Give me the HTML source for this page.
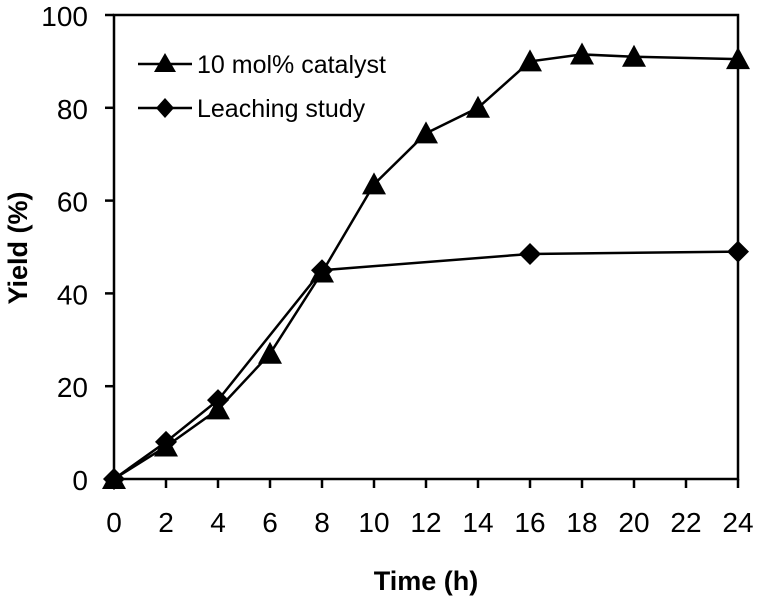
<!DOCTYPE html>
<html><head><meta charset="utf-8"><style>
body{margin:0;background:#fff;}
svg text{font-family:"Liberation Sans",Arial,sans-serif;fill:#000;}
</style></head><body>
<svg id="chart" width="759" height="606" viewBox="0 0 759 606">
<g id="axes"></g><g id="series"></g>
<g>
 <line x1="138" y1="64" x2="192" y2="64" stroke="#000" stroke-width="2.5"/>
 <polygon points="165,53 176,72 154,72" fill="#000"/>
 <text x="197" y="73" font-size="25">10 mol% catalyst</text>
 <line x1="138" y1="108" x2="192" y2="108" stroke="#000" stroke-width="2.5"/>
 <polygon points="165,98 174,108 165,118 156,108" fill="#000"/>
 <text x="197" y="117" font-size="25">Leaching study</text>
</g>
<text x="426" y="590" font-size="27" font-weight="bold" text-anchor="middle">Time (h)</text>
<text transform="translate(27,248) rotate(-90)" font-size="27" font-weight="bold" text-anchor="middle">Yield (%)</text>
</svg>
<script>
const xTicks=[0,2,4,6,8,10,12,14,16,18,20,22,24];
const yTicks=[0,20,40,60,80,100];
const catX=[0,2,4,6,8,10,12,14,16,18,20,24];
const catY=[0,7,15,27,44.5,63.5,74.5,80,90,91.5,91,90.5];
const leachX=[0,2,4,8,16,24];
const leachY=[0,8,17,45,48.5,49];
const L=114,R=738,T=15,B=479;
const sx=v=>L+(v-0)/24*(R-L), sy=v=>B-(v/100)*(B-T);
const NS="http://www.w3.org/2000/svg";
const ax=document.getElementById('axes'), se=document.getElementById('series');
function mk(tag,attrs,parent){const e=document.createElementNS(NS,tag);for(const k in attrs)e.setAttribute(k,attrs[k]);parent.appendChild(e);return e;}
const frame=mk('rect',{x:L,y:T,width:R-L,height:B-T,fill:'none',stroke:'#000','stroke-width':2.5},ax);


yTicks.forEach(v=>{
 const t=mk('line',{x1:L-9,x2:L,y1:sy(v),y2:sy(v),stroke:'#000','stroke-width':2.5},ax);
 
 
 const tx=mk('text',{x:88,y:sy(v)+11,'font-size':28,'text-anchor':'end'},ax);tx.textContent=v;
 
 
});
xTicks.forEach(v=>{
 const t=mk('line',{x1:sx(v),x2:sx(v),y1:B,y2:B+9,stroke:'#000','stroke-width':2.5},ax);
 
 
 const tx=mk('text',{x:sx(v),y:532,'font-size':28,'text-anchor':'middle'},ax);tx.textContent=v;
 
 
});
function line(xs,ys,name){
 const p=mk('polyline',{points:xs.map((x,i)=>sx(x)+','+sy(ys[i])).join(' '),fill:'none',stroke:'#000','stroke-width':2.5},se);
 
 
}
line(leachX,leachY,'leaching-line');
line(catX,catY,'catalyst-line');
leachX.forEach((x,i)=>{const X=sx(x),Y=sy(leachY[i]);
 const m=mk('polygon',{points:`${X},${Y-11} ${X+11},${Y} ${X},${Y+11} ${X-11},${Y}`,fill:'#000'},se);
 
 
});
catX.forEach((x,i)=>{const X=sx(x),Y=sy(catY[i]);
 const m=mk('polygon',{points:`${X},${Y-12} ${X+12},${Y+10} ${X-12},${Y+10}`,fill:'#000'},se);
 
 
});
</script>
</body></html>
